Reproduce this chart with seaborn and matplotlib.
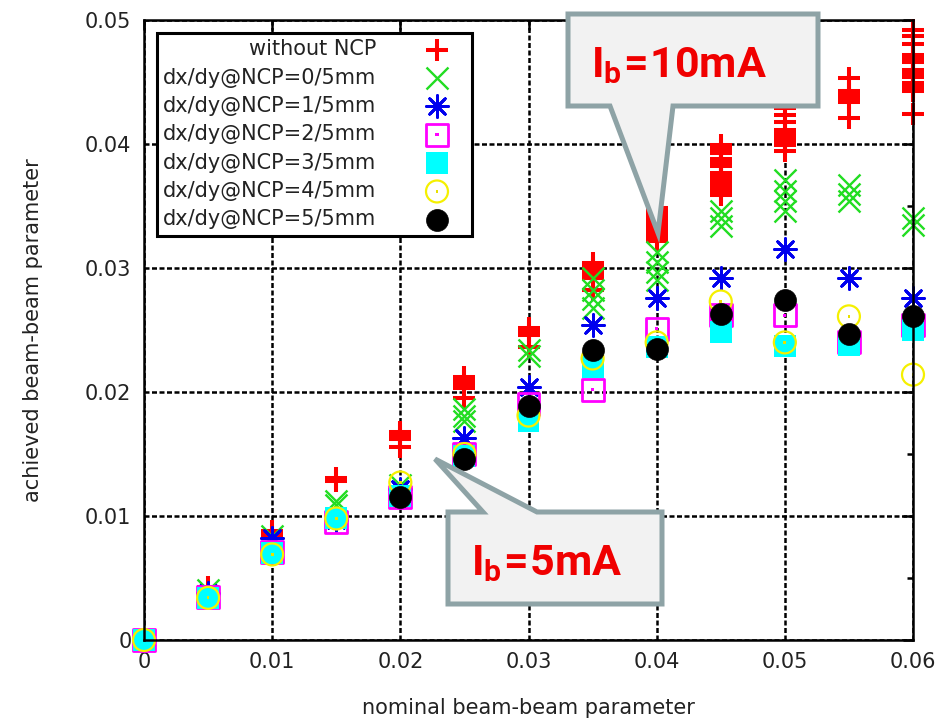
import numpy as np
import pandas as pd
import matplotlib
matplotlib.use("Agg")
import matplotlib.pyplot as plt
from matplotlib.patches import Polygon
from matplotlib.ticker import MultipleLocator, FuncFormatter
import seaborn as sns

# --- Settings ---
sns.set_style("white")
plt.rcParams["font.family"] = ["DejaVu Sans"]
plt.rcParams["mathtext.fontset"] = "custom"
plt.rcParams["mathtext.bf"] = "Roboto:bold"
plt.rcParams["mathtext.rm"] = "Roboto"

# --- Data ---
nominal = [0.0, 0.005, 0.01, 0.015, 0.02, 0.025, 0.03, 0.035, 0.04, 0.045, 0.05, 0.055, 0.06]

without_ncp = [
    [0.0],
    [0.0043],
    [0.0088, 0.0085],
    [0.0131, 0.0128],
    [0.0168, 0.0165, 0.0162, 0.0156],
    [0.0212, 0.0209, 0.0206, 0.0203, 0.0195],
    [0.0252, 0.0249, 0.0246, 0.0236],
    [0.0304, 0.0301, 0.0298, 0.0295, 0.0292, 0.0282],
    [0.0348, 0.0345, 0.0342, 0.0339, 0.0336, 0.0333, 0.0330, 0.0327, 0.0324, 0.0322],
    [0.0399, 0.0396, 0.0393, 0.0388, 0.0385, 0.0382, 0.0377, 0.0374, 0.0371,
     0.0368, 0.0365, 0.0362, 0.0359],
    [0.0429, 0.0423, 0.0418, 0.0411, 0.0408, 0.0405, 0.0402, 0.0399, 0.0394],
    [0.0453, 0.0443, 0.0440, 0.0437, 0.0434, 0.0421],
    [0.0492, 0.0487, 0.0481, 0.0472, 0.0469, 0.0466, 0.0460, 0.0457, 0.0454,
     0.0449, 0.0446, 0.0443, 0.0424],
]
ncp_0 = [
    [0.0], [0.0040], [0.0084], [0.0112, 0.0109], [0.0125],
    [0.0186, 0.0181, 0.0177], [0.0234, 0.0229],
    [0.0292, 0.0282, 0.0275, 0.0268], [0.0313, 0.0305, 0.0297, 0.0290],
    [0.0346, 0.0340, 0.0334], [0.0371, 0.0362, 0.0354, 0.0346],
    [0.0367, 0.0360, 0.0354], [0.0340, 0.0335],
]
ncp_1 = [0.0, 0.0038, 0.0082, 0.0097, 0.0122, 0.0163, 0.0204, 0.0254,
         0.0276, 0.0292, 0.0315, 0.0292, 0.0276]
ncp_2 = [0.0, 0.0035, 0.0071, 0.0095, 0.0115, 0.0150, 0.0190, 0.0202,
         0.0251, 0.0262, 0.0262, 0.0240, 0.0254]
ncp_3 = [0.0, 0.0034, 0.0070, 0.0098, 0.0116, 0.0148, 0.0177, 0.0220,
         0.0236, 0.0248, 0.0237, 0.0238, 0.0250]
ncp_4 = [0.0, 0.0034, 0.0069, 0.0098, 0.0127, 0.0150, 0.0181, 0.0227,
         0.0240, 0.0273, 0.0240, 0.0261, 0.0214]
nominal_5 = [0.02, 0.025, 0.03, 0.035, 0.04, 0.045, 0.05, 0.055, 0.06]
ncp_5 = [0.0115, 0.0146, 0.0189, 0.0234, 0.0235, 0.0263, 0.0274, 0.0247, 0.0261]

labels = ["without NCP", "dx/dy@NCP=0/5mm", "dx/dy@NCP=1/5mm", "dx/dy@NCP=2/5mm",
          "dx/dy@NCP=3/5mm", "dx/dy@NCP=4/5mm", "dx/dy@NCP=5/5mm"]


def long_form(xs, ys):
    rows = []
    for x, y in zip(xs, ys):
        for v in (y if isinstance(y, list) else [y]):
            rows.append((x, v))
    return pd.DataFrame(rows, columns=["nominal", "achieved"])


df_red = long_form(nominal, without_ncp)
df_green = long_form(nominal, ncp_0)
df_blue = long_form(nominal, ncp_1)
df_mag = long_form(nominal, ncp_2)
df_cyan = long_form(nominal, ncp_3)
df_yel = long_form(nominal, ncp_4)
df_blk = long_form(nominal_5, ncp_5)

# --- Figure ---
W, H = 947, 721
fig, ax = plt.subplots(figsize=(W / 100, H / 100), dpi=100)
fig.subplots_adjust(left=144 / W, right=913 / W, top=1 - 20 / H, bottom=1 - 640 / H)

S = 250
common = dict(x="nominal", y="achieved", ax=ax, clip_on=False)
sns.scatterplot(data=df_red, marker="+", s=S, color="#ff0000", linewidth=2.9,
                label=labels[0], **common)
sns.scatterplot(data=df_green, marker="x", s=S, color="#22dd22", linewidth=1.7,
                label=labels[1], **common)
sns.scatterplot(data=df_blue, marker=(8, 2, 0), s=S, color="#0000ee", linewidth=2.0,
                label=labels[2], **common)
sns.scatterplot(data=df_mag, marker="s", s=S, color="#ff00ff", facecolor="none",
                edgecolor="#ff00ff", linewidth=2.0, label=labels[3], **common)
sns.scatterplot(data=df_mag, marker="s", s=5, color="#ff00ff", edgecolor="none",
                label="_nolegend_", **common)
sns.scatterplot(data=df_cyan, marker="s", s=S, color="#00ffff", edgecolor="none",
                linewidth=0, label=labels[4], **common)
sns.scatterplot(data=df_yel, marker="o", s=S, color="#ffff00", facecolor="none",
                edgecolor="#f5f000", linewidth=1.6, label=labels[5], **common)
sns.scatterplot(data=df_yel, marker="s", s=4, color="#e8e000", edgecolor="none",
                label="_nolegend_", **common)
sns.scatterplot(data=df_blk, marker="o", s=S, color="black", edgecolor="black",
                linewidth=0.5, label=labels[6], **common)

# --- Axes ---
ax.set_xlim(0, 0.06)
ax.set_ylim(0, 0.05)
ax.xaxis.set_major_locator(MultipleLocator(0.01))
ax.yaxis.set_major_locator(MultipleLocator(0.01))
ax.yaxis.set_minor_locator(MultipleLocator(0.005))
fmt = FuncFormatter(lambda v, pos: "0" if abs(v) < 1e-9 else "%g" % round(v, 4))
ax.xaxis.set_major_formatter(fmt)
ax.yaxis.set_major_formatter(fmt)
ax.tick_params(which="both", direction="in", top=True, right=True,
               labelsize=15, width=1.8, colors="black", labelcolor="#222222")
ax.tick_params(which="major", length=7, pad=9)
ax.tick_params(which="minor", length=4)
ax.grid(True, which="major", color="black", linestyle=(0, (2, 1)), linewidth=1.8)
for sp in ax.spines.values():
    sp.set_linewidth(1.8)
    sp.set_color("black")
ax.set_xlabel("nominal beam-beam parameter", fontsize=15, color="#222222", labelpad=18)
ax.set_ylabel("achieved beam-beam parameter", fontsize=15, color="#222222", labelpad=30)

# --- Legend ---
handles, labs = ax.get_legend_handles_labels()
dots = [c for c in ax.collections if c.get_label() == "_nolegend_"]
handles[3] = (handles[3], dots[0])
handles[5] = (handles[5], dots[1])
leg = ax.legend(handles, labs, loc="upper left", bbox_to_anchor=(0.017, 0.979),
                borderaxespad=0, markerfirst=False, fontsize=15, frameon=True,
                fancybox=False, framealpha=1, edgecolor="black", labelspacing=0.4,
                handlelength=2.8, handletextpad=1.5, borderpad=0.3, scatterpoints=1)
leg.get_frame().set_linewidth(2.2)
leg.set_zorder(5)
for t in leg.get_texts():
    t.set_color("#222222")


# --- Callouts (figure pixel coordinates) ---
def px(x, y):
    return (x / W, 1 - y / H)


callout_10 = [(568, 14), (818, 14), (818, 106), (673, 106), (658, 233), (610, 106), (568, 106)]
callout_5 = [(448, 512), (483, 512), (435, 459), (537, 512), (662, 512), (662, 604), (448, 604)]
for pts in (callout_10, callout_5):
    fig.patches.append(Polygon([px(*p) for p in pts], closed=True, transform=fig.transFigure,
                               facecolor="#f2f2f2", edgecolor="#8ea3a6", linewidth=3.6,
                               joinstyle="miter", zorder=10))
fig.text(*px(591, 77), r"$\mathbf{I_b\!=\!10mA}$", color="#f00000", fontsize=31,
         ha="left", va="baseline", zorder=11)
fig.text(*px(471, 575), r"$\mathbf{I_b\!=\!5mA}$", color="#f00000", fontsize=31,
         ha="left", va="baseline", zorder=11)

fig.savefig("out.png", dpi=100)
